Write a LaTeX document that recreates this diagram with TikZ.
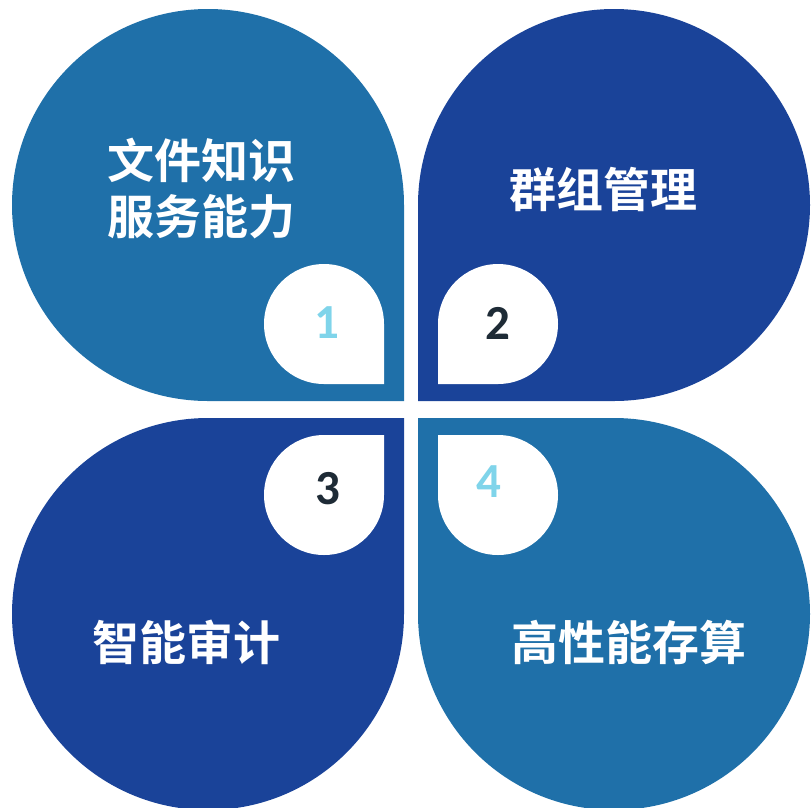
\documentclass[tikz,border=0pt]{standalone}
\usepackage{fontspec}
\setmainfont{Carlito}
\newfontfamily\cjk{Noto Sans CJK SC}[BoldFont={Noto Sans CJK SC Bold}]
\definecolor{lightblue}{HTML}{1F70A9}
\definecolor{darkblue}{HTML}{1A4399}
\definecolor{numlight}{HTML}{7FD4EA}
\definecolor{numdark}{HTML}{1E2B36}
\tikzset{
  cjklabel/.style={text=white, inner sep=0pt, align=center, font=\cjk\bfseries\fontsize{47}{56}\selectfont},
  numlabel/.style={inner sep=0pt, font=\bfseries\fontsize{49}{50}\selectfont}
}
\begin{document}
\begin{tikzpicture}[x=1pt,y=-1pt]
\useasboundingbox (0,0) rectangle (811,807);
% big drops
\fill[lightblue] (208,401) arc[start angle=90,end angle=360,radius=196] -- (404,401) -- cycle;
\fill[darkblue] (418,205) arc[start angle=180,end angle=450,radius=196] -- (418,401) -- cycle;
\fill[darkblue] (404,614) arc[start angle=0,end angle=270,radius=196] -- (404,418) -- cycle;
\fill[lightblue] (614,418) arc[start angle=270,end angle=540,radius=196] -- (418,418) -- cycle;
% small white drops
\fill[white] (324,384) arc[start angle=90,end angle=360,radius=60] -- (384,384) -- cycle;
\fill[white] (438,324) arc[start angle=180,end angle=450,radius=60] -- (438,384) -- cycle;
\fill[white] (384,495) arc[start angle=0,end angle=270,radius=60] -- (384,435) -- cycle;
\fill[white] (498,435) arc[start angle=270,end angle=540,radius=60] -- (438,435) -- cycle;
% numbers
\node[numlabel, text=numlight] (n1) at (327,323) {1};
\node[numlabel, text=numdark] (n2) at (498,323) {2};
\node[numlabel, text=numdark] (n3) at (328,489) {3};
\node[numlabel, text=numlight] (n4) at (489,482) {4};
% labels
\node[cjklabel] (t1) at (201,189) {文件知识\\服务能力};
\node[cjklabel] (t2) at (603,189) {群组管理};
\node[cjklabel] (t3) at (186,642) {智能审计};
\node[cjklabel] (t4) at (629,642) {高性能存算};
\end{tikzpicture}
\end{document}
